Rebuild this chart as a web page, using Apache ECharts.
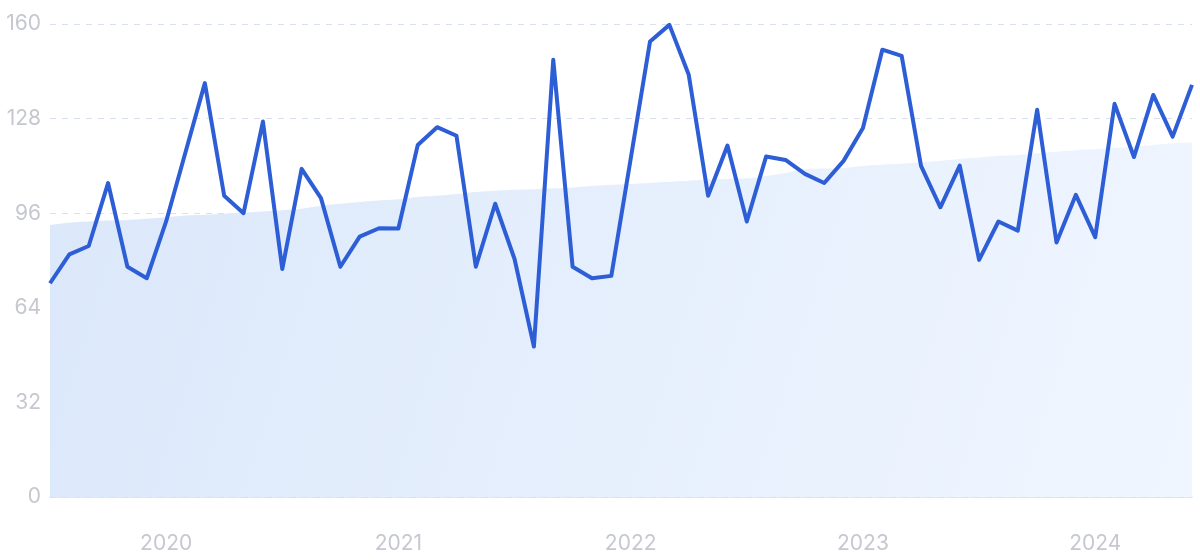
<!DOCTYPE html>
<html>
<head>
<meta charset="utf-8">
<script src="https://cdn.jsdelivr.net/npm/echarts@6/dist/echarts.min.js"></script>
<style>html,body{margin:0;padding:0;background:#fff;}#chart{width:1200px;height:560px;}</style>
</head>
<body>
<div id="chart"></div>
<script>
const months = [
 "2019-07","2019-08","2019-09","2019-10","2019-11","2019-12",
 "2020-01","2020-02","2020-03","2020-04","2020-05","2020-06","2020-07","2020-08","2020-09","2020-10","2020-11","2020-12",
 "2021-01","2021-02","2021-03","2021-04","2021-05","2021-06","2021-07","2021-08","2021-09","2021-10","2021-11","2021-12",
 "2022-01","2022-02","2022-03","2022-04","2022-05","2022-06","2022-07","2022-08","2022-09","2022-10","2022-11","2022-12",
 "2023-01","2023-02","2023-03","2023-04","2023-05","2023-06","2023-07","2023-08","2023-09","2023-10","2023-11","2023-12",
 "2024-01","2024-02","2024-03","2024-04","2024-05","2024-06"
];
const searches = [
 72.3, 82.1, 84.9, 106.2, 77.9, 74.0,
 93.2, 116.6, 140.0, 101.9, 96.0, 127.0, 77.1, 111.0, 101.1, 77.9, 88.1, 90.9,
 90.8, 119.1, 125.1, 122.2, 77.9, 99.2, 80.5, 50.9, 147.9, 77.9, 74.0, 74.8,
 114.4, 154.1, 159.7, 142.8, 101.9, 118.9, 93.2, 115.2, 114.0, 109.3, 106.2, 113.7,
 124.8, 151.3, 149.2, 112.0, 98.0, 112.1, 80.2, 93.2, 90.1, 131.0, 86.1, 102.2,
 87.9, 133.0, 115.0, 136.0, 121.9, 139.4
];
const trend = [
 92.0, 92.8, 93.2, 93.5, 93.7, 94.1,
 94.6, 95.2, 95.5, 95.8, 96.2, 96.6, 97.0, 97.5, 98.5, 99.2, 99.8, 100.3,
 100.7, 101.5, 101.9, 102.5, 103.2, 103.6, 103.9, 104.1, 104.4, 104.7, 105.2, 105.6,
 105.9, 106.2, 106.6, 107.0, 107.4, 107.6, 107.8, 108.6, 109.6, 110.9, 111.1, 111.3,
 112.0, 112.4, 112.7, 113.2, 113.7, 114.3, 114.8, 115.4, 115.7, 116.3, 116.8, 117.3,
 117.6, 118.1, 118.6, 119.1, 119.6, 119.9
];
const yTicks = [0, 32, 64, 96, 128, 160];

const chart = echarts.init(document.getElementById('chart'));
chart.setOption({
  animation: false,
  backgroundColor: '#ffffff',
  grid: { left: 50, right: 8, top: 24, bottom: 63 },
  xAxis: {
    type: 'category',
    data: months,
    boundaryGap: false,
    axisLine: { show: true, lineStyle: { color: '#d3e1f7', width: 1.5 } },
    axisTick: { show: false },
    splitLine: { show: false },
    axisLabel: {
      interval: function (i) { return i % 12 === 6; },
      formatter: function (v) { return v.slice(0, 4); },
      color: '#c6c8d0',
      fontFamily: 'Inter, "Noto Sans", sans-serif',
      fontSize: 21,
      margin: 36
    }
  },
  yAxis: {
    type: 'value',
    min: yTicks[0],
    max: yTicks[yTicks.length - 1],
    interval: 32,
    axisLine: { show: false },
    axisTick: { show: false },
    splitLine: { show: true, lineStyle: { color: '#d9e1ee', type: [6, 6], width: 1 } },
    axisLabel: {
      color: '#c6c8d0',
      fontFamily: 'Inter, "Noto Sans", sans-serif',
      fontSize: 21,
      margin: 9
    }
  },
  series: [
    {
      type: 'line',
      data: trend,
      symbol: 'none',
      smooth: true,
      lineStyle: { width: 0 },
      areaStyle: {
        opacity: 1,
        color: new echarts.graphic.LinearGradient(0, 0, 1, 1, [
          { offset: 0, color: '#dbe8fa' },
          { offset: 1, color: '#f0f6ff' }
        ])
      },
      z: 1
    },
    {
      type: 'line',
      data: searches,
      symbol: 'none',
      lineStyle: { color: '#2d5ed6', width: 4, join: 'round' },
      z: 3
    }
  ]
});
</script>
</body>
</html>
